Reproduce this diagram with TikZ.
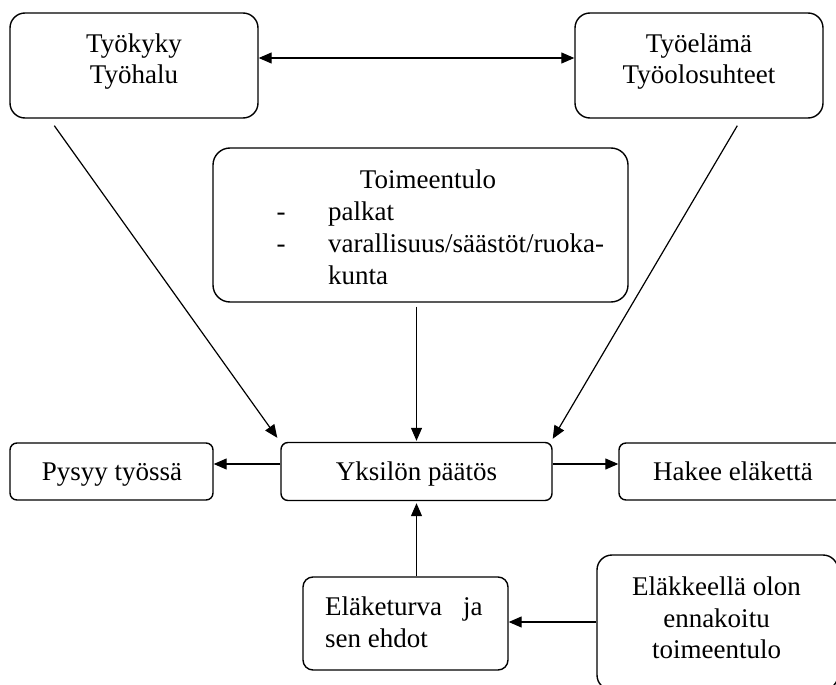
\documentclass[tikz,border=0pt]{standalone}
\usepackage{fontspec}
\setmainfont{Liberation Serif}
\usetikzlibrary{arrows.meta}
\begin{document}
\begin{tikzpicture}[x=1pt,y=-1pt,
  >={Triangle[length=13pt,width=11pt]},
  box/.style={draw,line width=1.4pt,inner sep=0pt,rounded corners=8pt},
  lbl/.style={anchor=base,inner sep=0pt,font=\fontsize{27pt}{31pt}\selectfont},
  lblw/.style={lbl,anchor=base west},
  conn/.style={line width=1.2pt}]
\useasboundingbox (0,0) rectangle (836,685);

% boxes
\node[box,rounded corners=15pt,minimum width=248pt,minimum height=105pt] (ty) at (134,65.5) {};
\node[box,rounded corners=15pt,minimum width=248pt,minimum height=105pt] (te) at (699,65.5) {};
\node[box,rounded corners=17pt,minimum width=415pt,minimum height=154pt] (to) at (420.5,225) {};
\node[box,rounded corners=7pt,minimum width=203pt,minimum height=57pt] (py) at (111.5,471.5) {};
\node[box,rounded corners=7pt,minimum width=271pt,minimum height=58pt] (yk) at (416.5,471.5) {};
\node[box,rounded corners=7pt,minimum width=229pt,minimum height=57pt] (ha) at (733.5,471.5) {};
\node[box,rounded corners=10pt,minimum width=205pt,minimum height=93pt] (el) at (405.5,623.5) {};
\node[box,rounded corners=15pt,minimum width=241pt,minimum height=135pt] (ek) at (717.5,622.5) {};

% labels
\node[lbl] (ty1) at (134,53) {Työkyky};
\node[lbl] (ty2) at (134,84) {Työhalu};
\node[lbl] (te1) at (699,53) {Työelämä};
\node[lbl] (te2) at (699,84) {Työolosuhteet};
\node[lbl] (to1) at (428,188) {Toimeentulo};
\node[lbl] (to2d) at (281,220) {-};
\node[lblw] (to2) at (328,220) {palkat};
\node[lbl] (to3d) at (281,252) {-};
\node[lblw] (to3) at (328,252) {varallisuus/säästöt/ruoka-};
\node[lblw] (to4) at (328,284) {kunta};
\node[lbl] (py1) at (112,480) {Pysyy työssä};
\node[lbl] (yk1) at (416.5,480) {Yksilön päätös};
\node[lbl] (ha1) at (733,480) {Hakee eläkettä};
\node[lblw] (el1) at (325,615) {Eläketurva\hspace{21pt}ja};
\node[lblw] (el2) at (325,647) {sen ehdot};
\node[lbl] (ek1) at (716.5,595) {Eläkkeellä olon};
\node[lbl] (ek2) at (716.5,627) {ennakoitu};
\node[lbl] (ek3) at (716.5,658) {toimeentulo};

% connectors
\coordinate (hy) at (0,58);
\coordinate (hm) at (0,464);
\coordinate (hb) at (0,622);
\draw[conn,<->] (ty.east |- hy) -- (te.west |- hy);
\draw[conn,->] ([shift={(45,7)}]ty.south west) -- ([shift={(-3,-4)}]yk.north west);
\draw[conn,->] ([shift={(163,7)}]te.south west) -- ([shift={(0,-3)}]yk.north east);
\draw[conn,->] ([shift={(-4,4)}]to.south) -- ([shift={(0,-1)}]yk.north);
\draw[conn,->] (yk.west |- hm) -- (py.east |- hm);
\draw[conn,->] (yk.east |- hm) -- (ha.west |- hm);
\draw[conn,->] (yk.south |- el.north) -- ([shift={(0,2)}]yk.south);
\draw[conn,->] (ek.west |- hb) -- (el.east |- hb);
\end{tikzpicture}
\end{document}
